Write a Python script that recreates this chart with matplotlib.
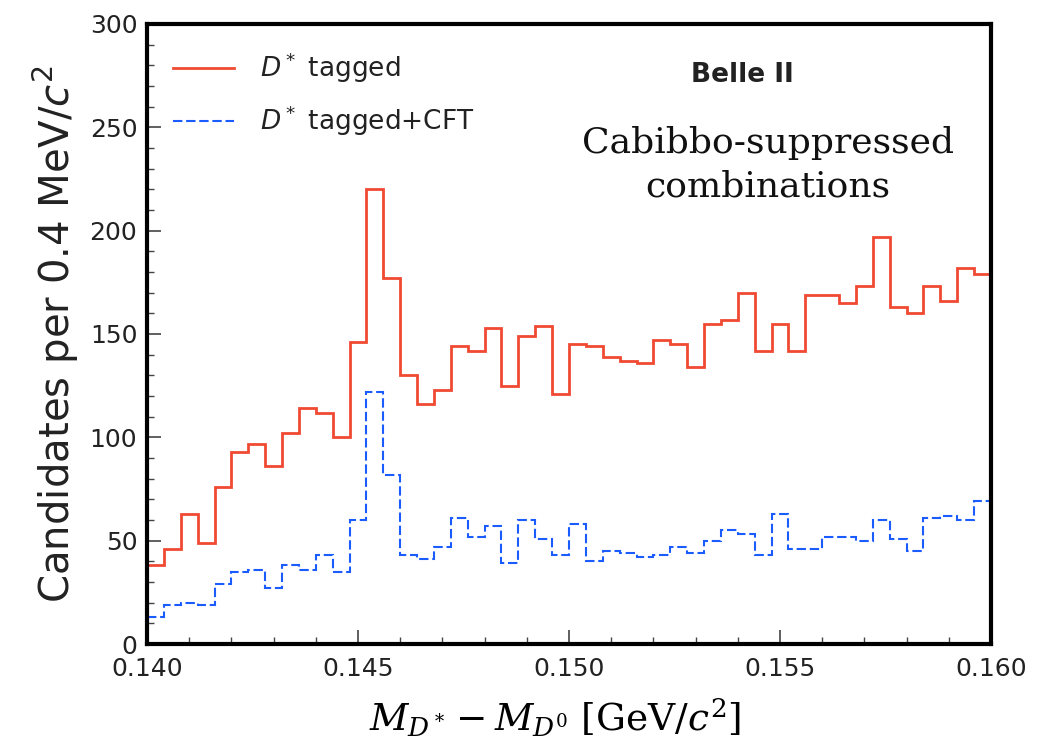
import numpy as np
import matplotlib
matplotlib.use("Agg")
import matplotlib.pyplot as plt
from matplotlib.ticker import MultipleLocator

# bin edges: 0.140 .. 0.160 GeV/c^2, 0.4 MeV bins
x_lo, x_hi, n_bins = 0.140, 0.160, 50

dstar_tagged = [38, 46, 63, 49, 76, 93, 97, 86, 102, 114,
                112, 100, 146, 220, 177, 130, 116, 123, 144, 142,
                153, 125, 149, 154, 121, 145, 144, 139, 137, 136,
                147, 145, 134, 155, 157, 170, 142, 155, 142, 169,
                169, 165, 173, 197, 163, 160, 173, 166, 182, 179]

dstar_tagged_cft = [13, 19, 20, 19, 29, 35, 36, 27, 38, 36,
                    43, 35, 60, 122, 82, 43, 41, 47, 61, 52,
                    57, 39, 60, 51, 43, 58, 40, 45, 44, 42,
                    43, 47, 44, 50, 55, 53, 43, 63, 46, 46,
                    52, 52, 50, 60, 51, 45, 61, 62, 60, 69]

edges = np.linspace(x_lo, x_hi, n_bins + 1)

plt.rcParams['mathtext.fontset'] = 'dejavusans'

fig = plt.figure(figsize=(10.48, 7.47), dpi=100)
ax = fig.add_axes([147 / 1048, 1 - 644 / 747, 844 / 1048, 620 / 747])

ax.stairs(dstar_tagged, edges, baseline=None, color='#f04a32', lw=2.0,
          label=r'$D^*$ tagged')
ax.stairs(dstar_tagged_cft, edges, baseline=None, color='#1a5cff', lw=1.5,
          ls=(0, (4.5, 1.8)), label=r'$D^*$ tagged+CFT')

ax.set_xlim(x_lo, x_hi)
ax.set_ylim(0, 300)
ax.xaxis.set_major_locator(MultipleLocator(0.005))
ax.xaxis.set_minor_locator(MultipleLocator(0.001))
ax.yaxis.set_major_locator(MultipleLocator(50))
ax.yaxis.set_minor_locator(MultipleLocator(10))
ax.xaxis.set_major_formatter(matplotlib.ticker.FormatStrFormatter('%.3f'))
ax.tick_params(which='both', direction='in', top=False, right=False,
               color='#444444', labelsize=18, labelcolor='#222222')
ax.tick_params(which='major', length=10, width=1.2, pad=7)
ax.tick_params(axis='x', which='major', pad=9)
ax.tick_params(which='minor', length=5, width=1.0)
for sp in ax.spines.values():
    sp.set_linewidth(3)

ax.set_ylabel(r'Candidates per 0.4 MeV/$c^2$', fontsize=29, color='#222222',
              labelpad=6)
ax.set_xlabel(r'$M_{D^*} - M_{D^0}$ [GeV/$c^2$]', fontsize=27,
              family='DejaVu Serif', math_fontfamily='dejavuserif', labelpad=8)
ax.xaxis.set_label_coords(0.483, -0.085)
ax.xaxis.label.set_va('top')

ax.legend(loc='upper left', frameon=False, fontsize=19, handlelength=2.3,
          handletextpad=1.0, labelspacing=0.7, borderaxespad=0.6,
          labelcolor='#222222')

ax.text(0.706, 0.918, 'Belle II', transform=ax.transAxes, ha='center',
        va='center', fontsize=19, fontweight='bold', color='#222222')
ax.text(0.736, 0.773, 'Cabibbo-suppressed\ncombinations', transform=ax.transAxes,
        ha='center', va='center', fontsize=26, family='DejaVu Serif',
        linespacing=1.35, color='#111111')

fig.savefig('out.png', dpi=100)
